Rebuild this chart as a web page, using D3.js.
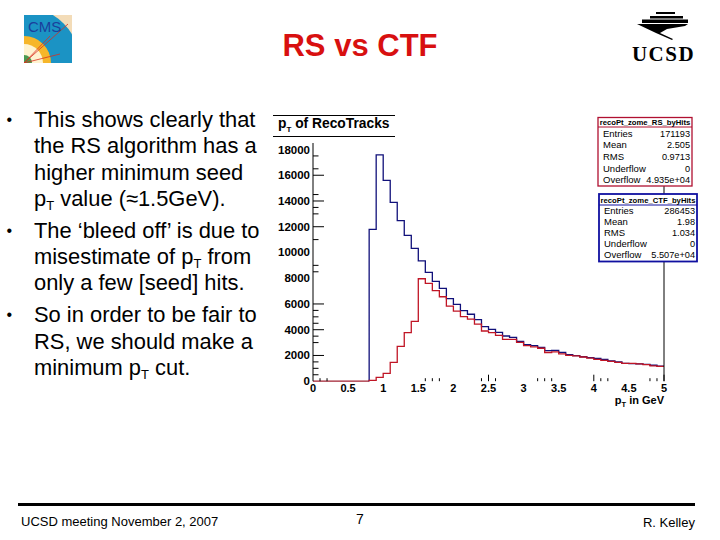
<!DOCTYPE html>
<html>
<head>
<meta charset="utf-8">
<script src="https://cdn.jsdelivr.net/npm/d3@7"></script>
<style>
  html, body { margin: 0; padding: 0; background: #fff; }
  text { font-family: "Liberation Sans", Arial, sans-serif; fill: #000; }
</style>
</head>
<body>
<svg id="slide" width="720" height="540"></svg>
<script>
// slide text
var slideTitle = "RS vs CTF";
var footerLeft = "UCSD meeting November 2, 2007";
var footerMiddle = "7";
var footerRight = "R. Kelley";

// histogram bins, each one is 0.1 GeV wide starting from 0
var binStart = 0.8;
var binWidth = 0.1;
var rsValues = [11800, 17590, 15600, 13900, 12470, 11330, 10320, 9340, 8460, 7760, 7215, 6410,
  5970, 5480, 5200, 4780, 4235, 4030, 3800, 3510, 3410, 3100, 2835, 2760, 2630, 2370, 2400,
  2245, 2060, 1980, 1900, 1825, 1780, 1700, 1570, 1490, 1390, 1370, 1340, 1300, 1240, 1170];
var ctfValues = [70, 300, 610, 1470, 2710, 3770, 4650, 7960, 7600, 7030, 6560, 5840,
  5450, 5010, 4830, 4440, 3900, 3770, 3565, 3250, 3250, 3020, 2760, 2660, 2560, 2230, 2280,
  2130, 2000, 1960, 1880, 1800, 1700, 1620, 1540, 1470, 1380, 1380, 1340, 1290, 1190, 1150];

// axis labels
var xTickLabels = [0, 0.5, 1, 1.5, 2, 2.5, 3, 3.5, 4, 4.5, 5];
var yTickLabels = [0, 2000, 4000, 6000, 8000, 10000, 12000, 14000, 16000, 18000];

// only these tick marks can be seen in the scan, the rest got lost
var xMajorTicks = [2.5, 4, 5];
var xMinorTicks = [0.1, 0.2, 1.6, 1.7, 1.8, 2.4, 2.6, 3.2, 3.3, 3.4, 4.1, 4.2, 4.8, 4.9];
var yMajorTicks = [2000, 4000, 6000, 12000, 14000, 16000];
var yMinorTicks = [500, 1000, 1500, 3000, 3500, 4500, 5000, 5500, 8500, 9000, 11000,
  13000, 13500, 14500, 16500, 17500];

// stat boxes
var rsStatsName = "recoPt_zome_RS_byHits";
var rsStatsLabels = ["Entries", "Mean", "RMS", "Underflow", "Overflow"];
var rsStatsValues = ["171193", "2.505", "0.9713", "0", "4.935e+04"];
var ctfStatsName = "recoPt_zome_CTF_byHits";
var ctfStatsLabels = ["Entries", "Mean", "RMS", "Underflow", "Overflow"];
var ctfStatsValues = ["286453", "1.98", "1.034", "0", "5.507e+04"];

var bulletLines = [
  ["This shows clearly that", "the RS algorithm has a", "higher minimum seed", "p|T| value (≈1.5GeV)."],
  ["The ‘bleed off’ is due to", "misestimate of p|T| from", "only a few [seed] hits."],
  ["So in order to be fair to", "RS, we should make a", "minimum p|T| cut."]
];

var svg = d3.select("#slide");

svg.append("text").attr("x", 360).attr("y", 55.5).attr("text-anchor", "middle")
  .attr("font-size", 31).attr("font-weight", "bold").style("fill", "#d81010").text(slideTitle);

///////////////////////////////////////////////////////////////////////////////
// Bullets

// "a|b|c" puts b down as a subscript
var addSubscripted = function (node, line, subSize, subDrop) {
  line.split("|").forEach(function (part, i) {
    var span = node.append("tspan").text(part);
    if (i === 1) span.attr("dy", subDrop).attr("font-size", subSize);
    if (i === 2) span.attr("dy", -subDrop);
  });
};

var lineY = 126.7;
bulletLines.forEach(function (bullet) {
  svg.append("text").attr("x", 6.5).attr("y", lineY - 2).attr("font-size", 16).text("•");
  bullet.forEach(function (line) {
    var t = svg.append("text").attr("x", 34).attr("y", lineY).attr("font-size", 21.9);
    addSubscripted(t, line, 13, 4);
    lineY += 26.4;
  });
  lineY += 5.3;
});

///////////////////////////////////////////////////////////////////////////////
// Histogram

var x = d3.scaleLinear().domain([0, 5]).range([313, 664]);
var y = d3.scaleLinear().domain([0, 18000]).range([381.2, 149.5]);

var stepPath = function (values) {
  var pts = [[binStart, 0]];
  values.forEach(function (v, i) {
    var left = binStart + i * binWidth;
    pts.push([left, v]);
    pts.push([left + binWidth, v]);
  });
  return d3.line().x(function (d) { return x(d[0]); }).y(function (d) { return y(d[1]); })(pts);
};

// bottom of the frame, up to where the first bin opens
svg.append("line").attr("x1", x(0)).attr("x2", x(binStart)).attr("y1", y(0)).attr("y2", y(0))
  .attr("stroke", "#a02030").attr("stroke-width", 1.2);

svg.append("path").attr("d", stepPath(rsValues)).attr("fill", "none")
  .attr("stroke", "#10107a").attr("stroke-width", 1.3);
svg.append("path").attr("d", stepPath(ctfValues)).attr("fill", "none")
  .attr("stroke", "#c01525").attr("stroke-width", 1.3);

// y axis
var yAxis = svg.append("g").attr("transform", "translate(" + x(0) + ",0)");
yAxis.append("line").attr("y1", 143).attr("y2", y(0)).attr("stroke", "#000");
yAxis.selectAll("line.major").data(yMajorTicks).enter().append("line").attr("class", "major")
  .attr("x1", 0).attr("x2", 11).attr("y1", y).attr("y2", y).attr("stroke", "#000");
yAxis.selectAll("line.minor").data(yMinorTicks).enter().append("line").attr("class", "minor")
  .attr("x1", 0).attr("x2", 5.5).attr("y1", y).attr("y2", y).attr("stroke", "#000");
yAxis.selectAll("text").data(yTickLabels).enter().append("text")
  .attr("x", -3).attr("y", function (d) { return y(d) + 4; }).attr("text-anchor", "end")
  .attr("font-size", 11.5).attr("font-weight", "bold").text(function (d) { return d; });

// x axis
var xAxis = svg.append("g");
xAxis.selectAll("line.major").data(xMajorTicks).enter().append("line").attr("class", "major")
  .attr("x1", x).attr("x2", x).attr("y1", y(0) - 6.5).attr("y2", y(0)).attr("stroke", "#000");
xAxis.selectAll("line.minor").data(xMinorTicks).enter().append("line").attr("class", "minor")
  .attr("x1", x).attr("x2", x).attr("y1", y(0) - 3).attr("y2", y(0)).attr("stroke", "#000");
xAxis.selectAll("text").data(xTickLabels).enter().append("text")
  .attr("x", x).attr("y", 391.5).attr("text-anchor", "middle")
  .attr("font-size", 11).attr("font-weight", "bold").text(function (d) { return d; });

var xLabel = svg.append("text").attr("x", 664).attr("y", 403.5).attr("text-anchor", "end")
  .attr("font-size", 11).attr("font-weight", "bold");
addSubscripted(xLabel, "p|T| in GeV", 7.5, 3);

// right edge of the frame
svg.append("line").attr("x1", x(5)).attr("x2", x(5)).attr("y1", 186).attr("y2", y(0)).attr("stroke", "#000");

// histogram title
svg.append("line").attr("x1", 273).attr("x2", 395).attr("y1", 115.5).attr("y2", 115.5).attr("stroke", "#000");
svg.append("line").attr("x1", 273).attr("x2", 395).attr("y1", 136.5).attr("y2", 136.5).attr("stroke", "#000");
var histTitle = svg.append("text").attr("x", 278).attr("y", 128).attr("font-size", 13.8).attr("font-weight", "bold");
addSubscripted(histTitle, "p|T| of RecoTracks", 8, 4);

///////////////////////////////////////////////////////////////////////////////
// Stat boxes

var statsBox = function (box, name, labels, values) {
  var g = svg.append("g");
  g.append("rect").attr("x", box.left).attr("y", box.top).attr("width", box.right - box.left)
    .attr("height", box.height).attr("fill", "#fff").attr("stroke", box.color).attr("stroke-width", box.weight);
  g.append("line").attr("x1", box.left).attr("x2", box.right).attr("y1", box.top + box.head).attr("y2", box.top + box.head)
    .attr("stroke", box.color);
  g.append("text").attr("x", (box.left + box.right) / 2).attr("y", box.top + box.head - 2.5).attr("text-anchor", "middle")
    .attr("font-size", box.nameSize).attr("font-weight", "bold").text(name);
  labels.forEach(function (label, i) {
    var rowY = box.top + box.first + i * box.step;
    g.append("text").attr("x", box.left + 5).attr("y", rowY).attr("font-size", 9.5).text(label);
    g.append("text").attr("x", box.right - 2).attr("y", rowY).attr("text-anchor", "end").attr("font-size", 9.2).text(values[i]);
  });
};

statsBox({ top: 117.5, left: 598, right: 692, height: 68.5, color: "#b01030", weight: 1.3,
  head: 9.5, nameSize: 7.7, first: 19.2, step: 11.65 }, rsStatsName, rsStatsLabels, rsStatsValues);
statsBox({ top: 194, left: 599, right: 697, height: 67.5, color: "#1010a0", weight: 1.8,
  head: 11, nameSize: 7.7, first: 20, step: 11.1 }, ctfStatsName, ctfStatsLabels, ctfStatsValues);

///////////////////////////////////////////////////////////////////////////////
// Logos, drawn roughly

var cms = svg.append("g");
cms.append("rect").attr("x", 24).attr("y", 15).attr("width", 48).attr("height", 48).attr("fill", "#f3dcb8");
cms.append("clipPath").attr("id", "cmsClip").append("rect").attr("x", 24).attr("y", 15).attr("width", 48).attr("height", 48);
var cmsRings = cms.append("g").attr("clip-path", "url(#cmsClip)");
[[56, "#1b93c4"], [27, "#f6b62a"], [19, "#fff3d0"], [8, "#4a9a50"]].forEach(function (ring) {
  cmsRings.append("circle").attr("cx", 24).attr("cy", 63).attr("r", ring[0]).attr("fill", ring[1]);
});
cmsRings.append("path").attr("d", "M24 63L68 24M24 63L60 54M24 63L50 36").attr("stroke", "#d83020")
  .attr("stroke-width", 0.8).attr("fill", "none");
cms.append("text").attr("x", 28).attr("y", 32).attr("font-size", 15).style("fill", "#1a3f9c").text("CMS");

var ucsd = svg.append("g");
ucsd.append("path").attr("fill", "#000")
  .attr("d", "M656 12h19v2h-19zM650 16h33v2.5h-33zM642 19.5h46v3.5h-46zM637 24h51l-3 2-18 3-7 4 13 6-1 1-16-7-19-9z");
ucsd.append("text").attr("x", 663.5).attr("y", 61).attr("text-anchor", "middle").attr("letter-spacing", 1.5)
  .attr("font-size", 21).attr("font-weight", "bold").style("font-family", "'Liberation Serif', serif").text("UCSD");

///////////////////////////////////////////////////////////////////////////////
// Footer

svg.append("rect").attr("x", 18).attr("y", 503).attr("width", 677).attr("height", 3).attr("fill", "#000");
svg.append("text").attr("x", 21).attr("y", 526).attr("font-size", 13).text(footerLeft);
svg.append("text").attr("x", 360).attr("y", 523.5).attr("text-anchor", "middle").attr("font-size", 14).text(footerMiddle);
svg.append("text").attr("x", 695).attr("y", 526.5).attr("text-anchor", "end").attr("font-size", 13).text(footerRight);
</script>
</body>
</html>
